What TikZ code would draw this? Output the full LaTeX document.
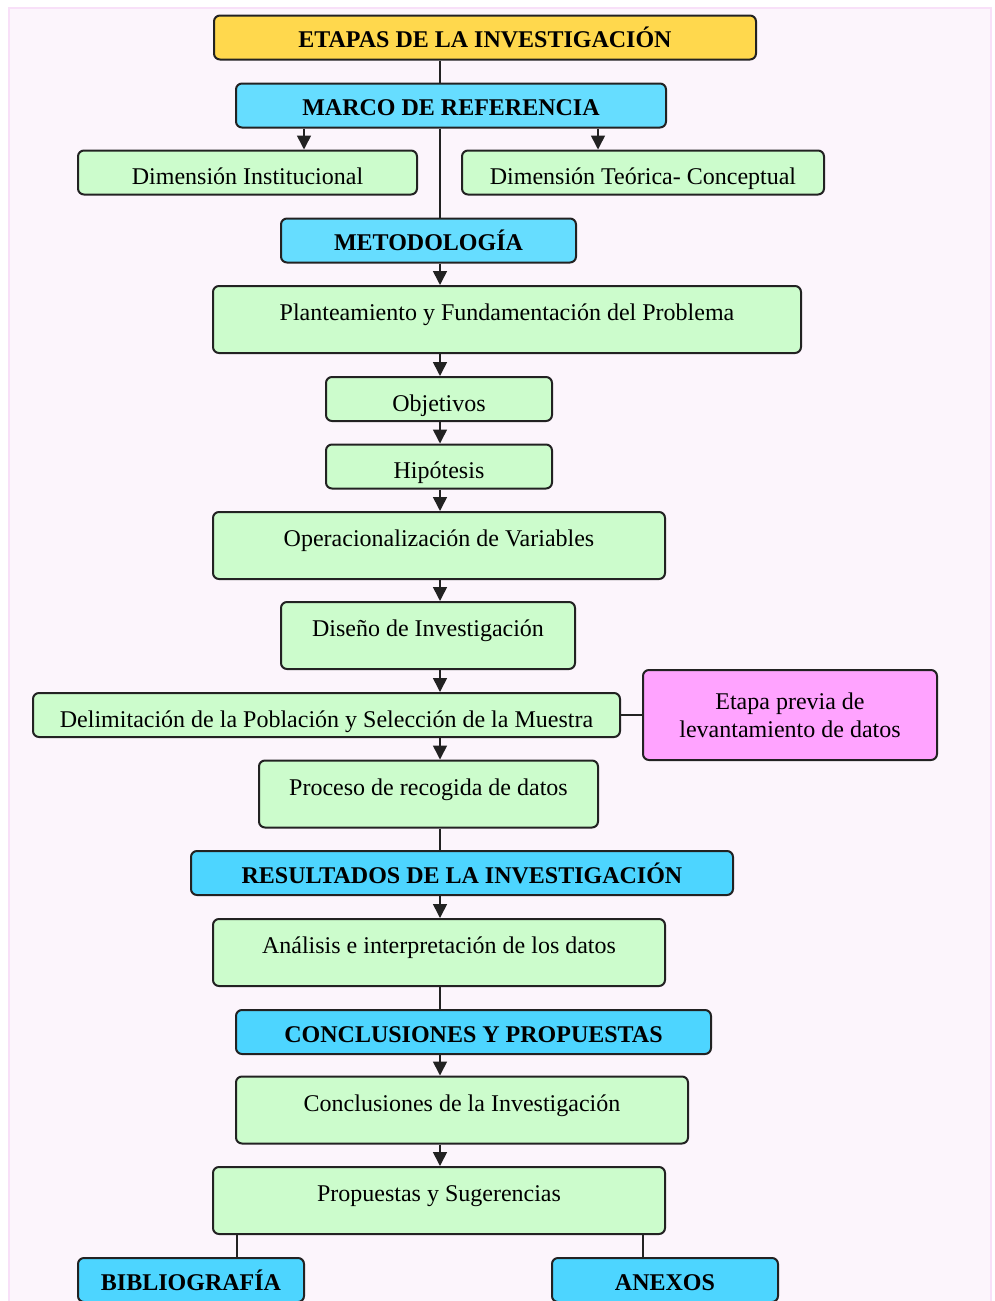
\documentclass[tikz,border=0pt]{standalone}
\usepackage{fontspec}
\setmainfont{Liberation Serif}
\usepackage{tikz}
\usetikzlibrary{arrows.meta}

\definecolor{amarillo}{RGB}{255,216,77}
\definecolor{celeste}{RGB}{102,221,255}
\definecolor{celesteb}{RGB}{77,213,255}
\definecolor{verde}{RGB}{204,252,204}
\definecolor{rosa}{RGB}{255,163,255}
\definecolor{fondo}{RGB}{252,245,252}
\definecolor{borde}{RGB}{248,224,248}
\definecolor{linea}{RGB}{34,34,34}

\tikzset{
    caja/.style={draw=linea,line width=1pt,rounded corners=3pt,minimum height=22pt,inner sep=2pt,font=\fontsize{12}{14}\selectfont},
    titulo/.style={caja,fill=#1,font=\fontsize{12}{14}\selectfont\bfseries,text height=10pt,text depth=0pt},
    etapa/.style={caja,fill=verde,text height=12pt,text depth=0pt},
    alto/.style={minimum height=33.5pt,text height=8pt,text depth=7pt},
    flecha/.style={-{Triangle[length=7pt,width=7pt]}},
    enlace/.style={draw=linea,line width=0.8pt}
}

\begin{document}
\begin{tikzpicture}[x=0.5pt,y=-0.5pt]
        \clip (0,0) rectangle (995,1301);
        \fill[white] (0,0) rectangle (995,1301);
        \filldraw[fill=fondo,draw=borde,line width=1pt] (9,8) rectangle (991,1310);

        % ejes de los conectores
        \coordinate (eje) at (440,0);
        \coordinate (izq) at (304,0);
        \coordinate (der) at (598,0);
        \coordinate (bib) at (237,0);
        \coordinate (anx) at (643,0);

        \node[titulo=amarillo,minimum width=271pt] (etapas) at (485,37.5) {ETAPAS DE LA INVESTIGACIÓN};
        \node[titulo=celeste,minimum width=215pt] (marco) at (451,105.5) {MARCO DE REFERENCIA};
        \node[etapa,minimum width=169.5pt] (dimInst) at (247.5,172.5) {Dimensión Institucional};
        \node[etapa,minimum width=181pt] (dimTeo) at (643,172.5) {Dimensión Teórica- Conceptual};
        \node[titulo=celeste,minimum width=147.5pt] (metodo) at (428.5,240.5) {METODOLOGÍA};
        \node[etapa,alto,minimum width=294pt] (plante) at (507,319.5) {Planteamiento y Fundamentación del Problema};
        \node[etapa,minimum width=113pt] (objet) at (439,399) {Objetivos};
        \node[etapa,minimum width=113pt] (hipot) at (439,466.5) {Hipótesis};
        \node[etapa,alto,minimum width=226pt] (operac) at (439,545.5) {Operacionalización de Variables};
        \node[etapa,alto,minimum width=147pt] (diseno) at (428,635.5) {Diseño de Investigación};
        \node[etapa,minimum width=293.5pt] (delim) at (326.5,715) {Delimitación de la Población y Selección de la Muestra};
        \node[caja,fill=rosa,minimum width=147pt,minimum height=45pt,align=center] (previa) at (790,715) {Etapa previa de\\levantamiento de datos};
        \node[etapa,alto,minimum width=169.5pt] (proceso) at (428.5,794) {Proceso de recogida de datos};
        \node[titulo=celesteb,minimum width=271pt] (result) at (462,873) {RESULTADOS DE LA INVESTIGACIÓN};
        \node[etapa,alto,minimum width=226pt] (analisis) at (439,952.5) {Análisis e interpretación de los datos};
        \node[titulo=celesteb,minimum width=237.5pt] (concprop) at (473.5,1032) {CONCLUSIONES Y PROPUESTAS};
        \node[etapa,alto,minimum width=226pt] (concl) at (462,1110) {Conclusiones de la Investigación};
        \node[etapa,alto,minimum width=226pt] (propu) at (439,1200.5) {Propuestas y Sugerencias};
        \node[titulo=celesteb,minimum width=113pt] (biblio) at (191,1280) {BIBLIOGRAFÍA};
        \node[titulo=celesteb,minimum width=113pt] (anexos) at (665,1280) {ANEXOS};

        \draw[enlace] (etapas.south -| eje) -- (marco.north -| eje);
        \draw[enlace] (marco.south -| eje) -- (metodo.north -| eje);
        \draw[enlace,flecha] (marco.south -| izq) -- (dimInst.north -| izq);
        \draw[enlace,flecha] (marco.south -| der) -- (dimTeo.north -| der);
        \draw[enlace,flecha] (metodo.south -| eje) -- (plante.north -| eje);
        \draw[enlace,flecha] (plante.south -| eje) -- (objet.north -| eje);
        \draw[enlace,flecha] (objet.south -| eje) -- (hipot.north -| eje);
        \draw[enlace,flecha] (hipot.south -| eje) -- (operac.north -| eje);
        \draw[enlace,flecha] (operac.south -| eje) -- (diseno.north -| eje);
        \draw[enlace,flecha] (diseno.south -| eje) -- (delim.north -| eje);
        \draw[enlace,flecha] (delim.south -| eje) -- (proceso.north -| eje);
        \draw[enlace] (delim.east) -- (previa.west |- delim.east);
        \draw[enlace] (proceso.south -| eje) -- (result.north -| eje);
        \draw[enlace,flecha] (result.south -| eje) -- (analisis.north -| eje);
        \draw[enlace] (analisis.south -| eje) -- (concprop.north -| eje);
        \draw[enlace,flecha] (concprop.south -| eje) -- (concl.north -| eje);
        \draw[enlace,flecha] (concl.south -| eje) -- (propu.north -| eje);
        \draw[enlace] (propu.south -| bib) -- (biblio.north -| bib);
        \draw[enlace] (propu.south -| anx) -- (anexos.north -| anx);
\end{tikzpicture}
\end{document}
